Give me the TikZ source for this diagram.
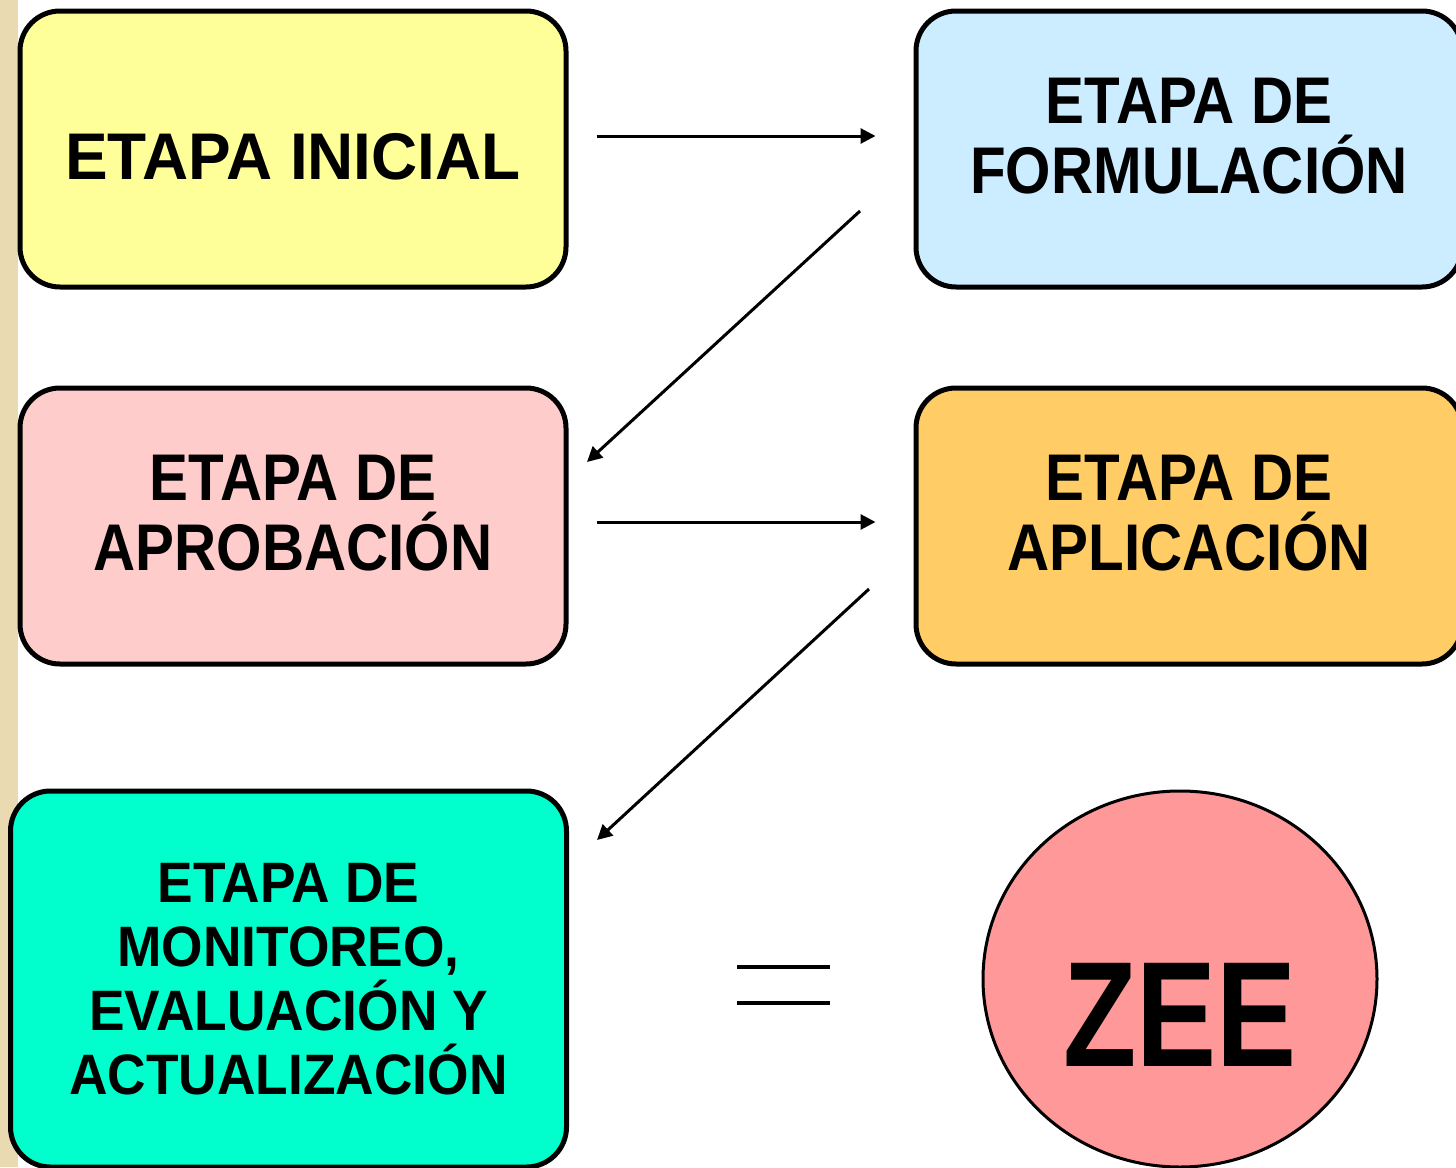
\documentclass[tikz,border=0pt]{standalone}
\usepackage{fontspec}
\setmainfont{Liberation Sans}
\usetikzlibrary{arrows.meta,shapes.geometric}
\definecolor{amarillo}{HTML}{FFFF99}
\definecolor{celeste}{HTML}{CCECFF}
\definecolor{rosa}{HTML}{FFCCCC}
\definecolor{naranja}{HTML}{FFCC66}
\definecolor{turquesa}{HTML}{00FFCC}
\definecolor{salmon}{HTML}{FF9999}
\definecolor{marco}{RGB}{234,218,178}
\tikzset{
	etapa/.style={draw, line width=2.5pt, rounded corners=20pt,
		minimum width=273pt, minimum height=138pt},
	texto/.style={align=center, inner sep=0pt,
		font=\fontsize{33}{35}\selectfont\bfseries\addfontfeatures{FakeStretch=0.884}},
	flecha/.style={-{Triangle[length=7.5pt,width=7.5pt]}, line width=1.5pt}
}
\begin{document}
\begin{tikzpicture}[x=0.5pt,y=-0.5pt]
	\useasboundingbox (0,0) rectangle (1456,1167);
	\clip (0,0) rectangle (1456,1167);
	\fill[marco] (0,0) rectangle (18,1167);
	\node[etapa, fill=amarillo] (inicial) at (293,149) {};
	\node[etapa, fill=celeste] (formulacion) at (1189,149) {};
	\node[etapa, fill=rosa] (aprobacion) at (293,526) {};
	\node[etapa, fill=naranja] (aplicacion) at (1189,526) {};
	\node[etapa, fill=turquesa, minimum width=278pt, minimum height=188pt] (monitoreo) at (288.5,979) {};
	\node[draw, line width=1.5pt, ellipse, inner sep=0pt, fill=salmon,
		minimum width=197pt, minimum height=188pt] (zee) at (1180,979) {};
	% textos
	\node[texto, font=\fontsize{33}{35}\selectfont\bfseries\addfontfeatures{FakeStretch=0.968}]
		(tinicial) at ([yshift=-4pt]inicial.center) {ETAPA INICIAL};
	\node[texto] (tformulacion) at ([yshift=6.5pt]formulacion.center) {ETAPA DE\\FORMULACIÓN};
	\node[texto] (taprobacion) at ([yshift=6.5pt]aprobacion.center) {ETAPA DE\\APROBACIÓN};
	\node[texto] (taplicacion) at ([yshift=6.5pt]aplicacion.center) {ETAPA DE\\APLICACIÓN};
	\node[texto, font=\fontsize{28.5}{32}\selectfont\bfseries\addfontfeatures{FakeStretch=0.935}]
		(tmonitoreo) at (monitoreo.center) {ETAPA DE\\MONITOREO,\\EVALUACIÓN Y\\ACTUALIZACIÓN};
	\node[texto, font=\fontsize{75}{75}\selectfont\bfseries\addfontfeatures{FakeStretch=0.8}]
		(tzee) at ([yshift=-18pt]zee.center) {ZEE};
	% flechas entre etapas
	\coordinate (f1) at (860,211);
	\coordinate (a1) at (587,462);
	\coordinate (f2) at (869,589);
	\coordinate (a2) at (597,840);
	\draw[flecha, shorten <=14pt, shorten >=19pt] ([yshift=6.5pt]inicial.east) -- ([yshift=6.5pt]formulacion.west);
	\draw[flecha] (f1) -- (a1);
	\draw[flecha, shorten <=14pt, shorten >=19pt] ([yshift=2pt]aprobacion.east) -- ([yshift=2pt]aplicacion.west);
	\draw[flecha] (f2) -- (a2);
	% signo igual
	\draw[line width=2pt] (737,967) -- (830,967) (737,1003) -- (830,1003);
\end{tikzpicture}
\end{document}
